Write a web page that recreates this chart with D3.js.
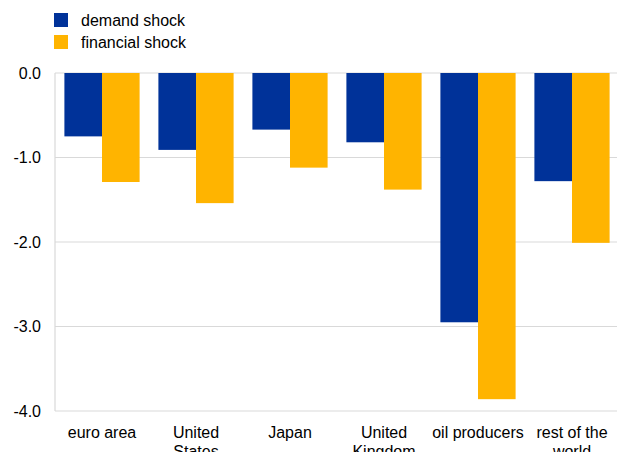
<!DOCTYPE html>
<html><head><meta charset="utf-8">
<script src="https://cdn.jsdelivr.net/npm/d3@7"></script>
<style>body{margin:0;background:#fff}svg{display:block;font-family:"Liberation Sans",Arial,sans-serif}</style>
</head><body><svg id="c" width="617" height="452"></svg>
<script>
const categories = [["euro area"],["United","States"],["Japan"],["United","Kingdom"],["oil producers"],["rest of the","world"]];
const demandShock = [-0.75,-0.91,-0.67,-0.82,-2.95,-1.28];
const financialShock = [-1.29,-1.54,-1.12,-1.38,-3.86,-2.01];
const seriesNames = ["demand shock","financial shock"];
const yTicks = [0,-1,-2,-3,-4];
const yTickLabels = ["0.0","-1.0","-2.0","-3.0","-4.0"];
const colors = ["#003299","#FFB400"];

const svg = d3.select("#c");
const x0 = d3.scaleBand().domain(d3.range(categories.length)).range([55,619]).paddingInner(0.2).paddingOuter(0.1);
const x1 = d3.scaleBand().domain([0,1]).range([0,x0.bandwidth()]);
const y = d3.scaleLinear().domain([-4,0]).range([411,73]);

// gridlines
svg.append("g").selectAll("line").data(yTicks).join("line")
  .attr("x1",55).attr("x2",617).attr("y1",d=>y(d)).attr("y2",d=>y(d))
  .attr("stroke","#d9d9d9").attr("stroke-width",1.2);
svg.append("line").attr("x1",55).attr("x2",55).attr("y1",y(0)).attr("y2",y(-4)).attr("stroke","#d9d9d9").attr("stroke-width",1.2);

// y labels
const yAxis = d3.axisLeft(y).tickValues(yTicks).tickFormat((d,i)=>yTickLabels[i]).tickSize(0).tickPadding(0);
const ga = svg.append("g").attr("transform","translate(41,0)").call(yAxis);
ga.select(".domain").remove();
ga.selectAll("text").attr("font-size",16).attr("fill","#000").attr("font-family","Liberation Sans, Arial, sans-serif");

// bars
const series = [demandShock, financialShock];
series.forEach((vals,si)=>{
  svg.append("g").selectAll("rect").data(vals).join("rect")
    .attr("x",(d,i)=>x0(i)+x1(si))
    .attr("width",x1.bandwidth())
    .attr("y",d=>y(0))
    .attr("height",d=>y(d)-y(0))
    .attr("fill",colors[si]);
});

// category labels
const lab = svg.append("g");
categories.forEach((lines,i)=>{
  const cx = x0(i)+x0.bandwidth()/2;
  const t = lab.append("text").attr("text-anchor","middle").attr("font-size",16).attr("fill","#000")
    .attr("x",cx).attr("y",437.5);
  lines.forEach((l,j)=>t.append("tspan").attr("x",cx).attr("dy",j?19:0).text(l));
});

// legend
const lg = svg.append("g");
seriesNames.forEach((n,i)=>{
  lg.append("rect").attr("x",54).attr("y",13+i*22).attr("width",14).attr("height",14).attr("fill",colors[i]);
  lg.append("text").attr("x",81).attr("y",26+i*22).attr("font-size",16).attr("fill","#000").text(n);
});
</script></body></html>
